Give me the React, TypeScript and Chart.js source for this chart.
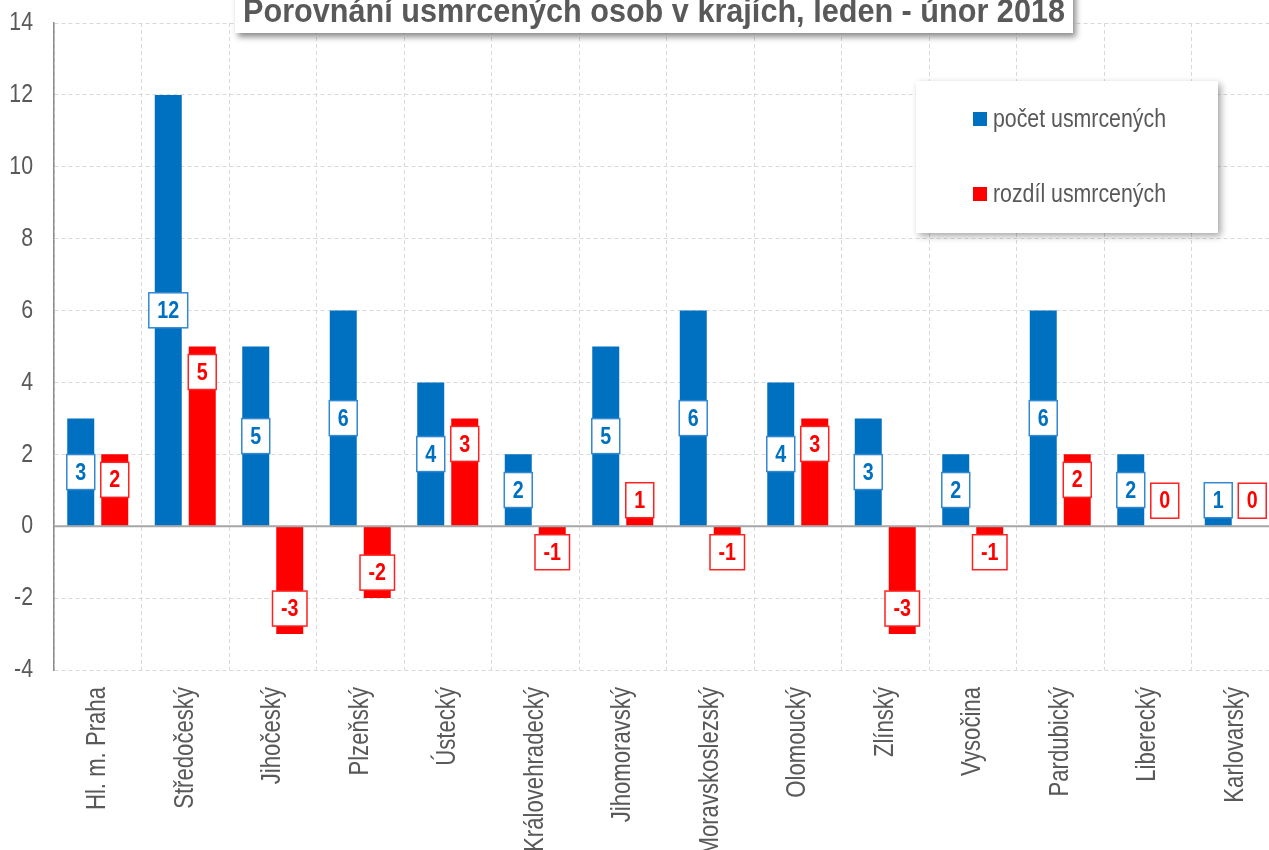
import { useEffect, useRef } from 'react';
import { Chart, registerables } from 'chart.js';

Chart.register(...registerables);

const TITLE = 'Porovnání usmrcených osob v krajích, leden - únor 2018';
const categories = [
  'Hl. m. Praha', 'Středočeský', 'Jihočeský', 'Plzeňský', 'Ústecký', 'Královehradecký',
  'Jihomoravský', 'Moravskoslezský', 'Olomoucký', 'Zlínský', 'Vysočina', 'Pardubický',
  'Liberecký', 'Karlovarský',
];
const killed = [3, 12, 5, 6, 4, 2, 5, 6, 4, 3, 2, 6, 2, 1];
const difference = [2, 5, -3, -2, 3, -1, 1, -1, 3, -3, -1, 2, 0, 0];
const seriesNames = ['počet usmrcených', 'rozdíl usmrcených'];
const seriesColors = ['#0070C0', '#FF0000'];
const labelBorderColors = ['#3388D0', '#FF2020'];
const yMin = -4;
const yMax = 14;
const yStep = 2;

const FAMILY = '"Liberation Sans", Arial, sans-serif';
const NARROW_X = 0.82;
const TEXT = '#595959';
const GRID = '#D9D9D9';

function narrowText(
  ctx: CanvasRenderingContext2D,
  text: string,
  x: number,
  y: number,
  font: string,
  color: string,
  align: CanvasTextAlign,
  baseline: CanvasTextBaseline,
  rot = 0,
  sx = NARROW_X,
) {
  ctx.save();
  ctx.translate(x, y);
  if (rot) ctx.rotate(rot);
  ctx.scale(sx, 1);
  ctx.font = font;
  ctx.fillStyle = color;
  ctx.textAlign = align;
  ctx.textBaseline = baseline;
  ctx.fillText(text, 0, 0);
  ctx.restore();
}

const decorPlugin = {
  id: 'decor',
  afterDatasetsDraw(chart: any) {
    const { ctx, chartArea, scales } = chart;
    const y0 = scales.y.getPixelForValue(0);
    ctx.save();
    ctx.strokeStyle = '#A6A6A6';
    ctx.lineWidth = 2;
    ctx.beginPath();
    ctx.moveTo(chartArea.left, y0);
    ctx.lineTo(chartArea.right, y0);
    ctx.stroke();
    ctx.restore();

    // axis tick labels
    scales.y.ticks.forEach((t: any) => {
      const py = scales.y.getPixelForValue(t.value);
      narrowText(ctx, String(t.value), 33, py, `26px ${FAMILY}`, TEXT, 'right', 'middle');
    });
    chart.data.labels.forEach((lab: string, i: number) => {
      const px = scales.x.getPixelForValue(i);
      narrowText(ctx, lab, px, chartArea.bottom + 17, `27px ${FAMILY}`, TEXT, 'right', 'middle', -Math.PI / 2);
    });

    // data labels
    chart.data.datasets.forEach((ds: any, i: number) => {
      const meta = chart.getDatasetMeta(i);
      meta.data.forEach((bar: any, j: number) => {
        const v = ds.data[j];
        const { x, y, base } = bar.getProps(['x', 'y', 'base'], true);
        const text = String(v);
        const font = `bold 24px ${FAMILY}`;
        ctx.save();
        ctx.font = font;
        const w = ctx.measureText(text).width * NARROW_X + 17;
        const h = 35;
        const gap = 8;
        let cy: number;
        if (i === 0) {
          cy = (y + base) / 2;
        } else if (v >= 0) {
          cy = y + gap + h / 2;
        } else {
          cy = y - gap - h / 2;
        }
        if (v >= 0) cy = Math.min(cy, base - gap - h / 2);
        else cy = Math.max(cy, base + gap + h / 2);
        ctx.fillStyle = '#FFFFFF';
        ctx.fillRect(x - w / 2, cy - h / 2, w, h);
        ctx.strokeStyle = labelBorderColors[i];
        ctx.lineWidth = 1.5;
        ctx.strokeRect(x - w / 2, cy - h / 2, w, h);
        ctx.restore();
        narrowText(ctx, text, x, cy + 1, font, seriesColors[i], 'center', 'middle');
      });
    });
  },
  afterDraw(chart: any) {
    const { ctx } = chart;
    // legend
    ctx.save();
    ctx.shadowColor = 'rgba(0,0,0,0.35)';
    ctx.shadowBlur = 7;
    ctx.shadowOffsetX = 3;
    ctx.shadowOffsetY = 3;
    ctx.fillStyle = '#FFFFFF';
    ctx.fillRect(916, 81, 302, 152);
    ctx.restore();
    chart.data.datasets.forEach((ds: any, i: number) => {
      const top = 112 + i * 75;
      ctx.save();
      ctx.fillStyle = ds.backgroundColor;
      ctx.fillRect(973, top, 14, 14);
      ctx.restore();
      narrowText(ctx, ds.label, 993, top + 15, `26px ${FAMILY}`, TEXT, 'left', 'alphabetic');
    });
    // title
    ctx.save();
    ctx.shadowColor = 'rgba(0,0,0,0.45)';
    ctx.shadowBlur = 6;
    ctx.shadowOffsetX = 3;
    ctx.shadowOffsetY = 4;
    ctx.fillStyle = '#FFFFFF';
    ctx.fillRect(235, -20, 838, 53);
    ctx.restore();
    const titleFont = `bold 34px ${FAMILY}`;
    ctx.save();
    ctx.font = titleFont;
    const tw = ctx.measureText(TITLE).width;
    ctx.restore();
    narrowText(ctx, TITLE, 654, 22, titleFont, TEXT, 'center', 'alphabetic', 0, 822 / tw);
  },
};

export default function App() {
  const ref = useRef<HTMLCanvasElement | null>(null);
  useEffect(() => {
    if (!ref.current) return;
    const chart = new Chart(ref.current, {
      type: 'bar',
      data: {
        labels: categories,
        datasets: [
          { label: seriesNames[0], data: killed, backgroundColor: seriesColors[0], borderWidth: 0 },
          { label: seriesNames[1], data: difference, backgroundColor: seriesColors[1], borderWidth: 0 },
        ],
      },
      options: {
        responsive: false,
        animation: false,
        devicePixelRatio: 1,
        layout: { padding: { top: 23, right: 21, left: 0, bottom: 0 } },
        datasets: { bar: { categoryPercentage: 0.777, barPercentage: 0.794 } },
        plugins: {
          legend: { display: false },
          title: { display: false },
          tooltip: { enabled: false },
        },
        scales: {
          x: {
            grid: { color: GRID, lineWidth: 1, drawTicks: false, offset: true },
            border: { display: false, dash: [4, 3] },
            ticks: {
              color: 'rgba(0,0,0,0)',
              font: { family: FAMILY, size: 12 },
              minRotation: 90,
              maxRotation: 90,
              autoSkip: false,
              padding: 0,
            },
            afterFit(scale: any) { scale.height = 180; },
          },
          y: {
            min: yMin,
            max: yMax,
            ticks: {
              stepSize: yStep,
              color: 'rgba(0,0,0,0)',
              font: { family: FAMILY, size: 12 },
              padding: 0,
            },
            grid: {
              color: (c: any) => (c.tick && c.tick.value === 0 ? 'rgba(0,0,0,0)' : GRID),
              lineWidth: 1,
              drawTicks: false,
            },
            border: { display: true, color: '#8C8C8C', width: 1.5, dash: [4, 3] },
            afterFit(scale: any) { scale.width = 54; },
          },
        },
      },
      plugins: [decorPlugin],
    });
    return () => chart.destroy();
  }, []);
  return (
    <div style={{ position: 'fixed', left: 0, top: 0, width: 1269, height: 850, overflow: 'hidden', background: '#fff' }}>
      <canvas ref={ref} width={1300} height={850} style={{ display: 'block', width: 1300, height: 850 }} />
    </div>
  );
}
